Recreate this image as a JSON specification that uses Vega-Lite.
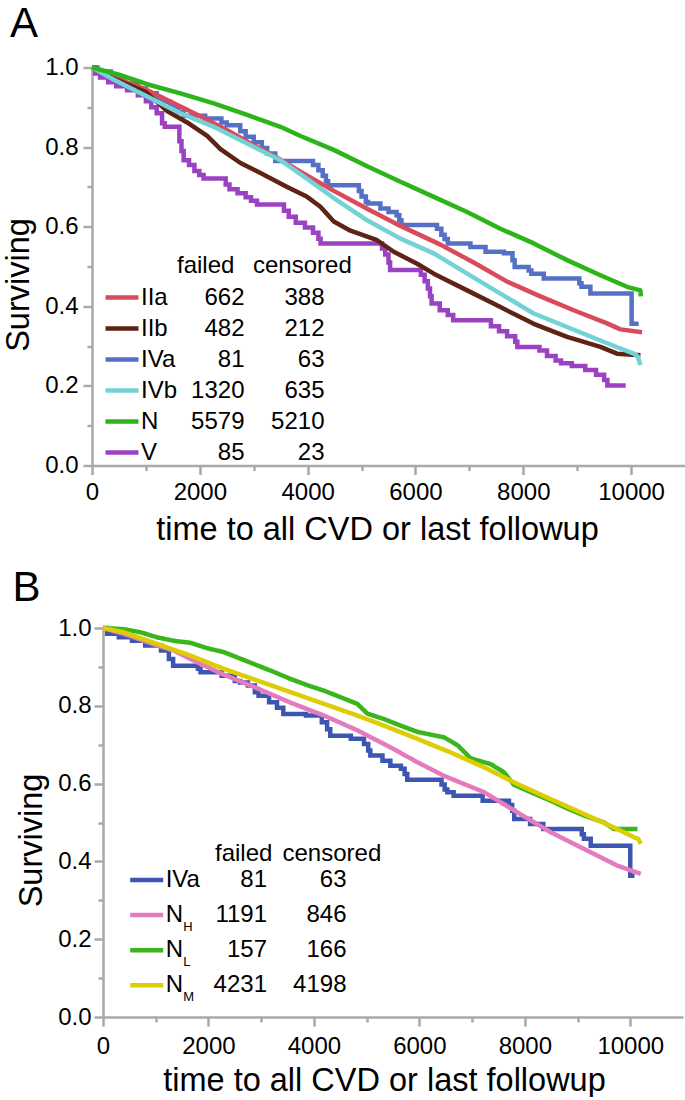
{
  "$schema": "https://vega.github.io/schema/vega-lite/v6.json",
  "background": "white",
  "padding": {"left": 2, "top": 2.5, "right": 0, "bottom": 0},
  "spacing": 20.5,
  "resolve": {
    "scale": {"color": "independent", "opacity": "independent", "strokeWidth": "independent", "strokeDash": "independent"},
    "legend": {"color": "independent", "opacity": "independent", "strokeWidth": "independent", "strokeDash": "independent"}
  },
  "config": {
    "font": "Liberation Sans",
    "view": {"stroke": null},
    "axis": {
      "domainColor": "#a9a9a9", "domainWidth": 2.5,
      "tickColor": "#a9a9a9", "tickWidth": 2.5,
      "labelFont": "Liberation Sans", "labelFontSize": 24, "labelColor": "#000000",
      "titleFont": "Liberation Sans", "titleFontSize": 32.5, "titleFontWeight": "normal", "titleColor": "#000000",
      "grid": false, "labelFlush": false, "labelOverlap": false
    },
    "legend": {
      "orient": "none", "direction": "vertical", "padding": 0,
      "labelFont": "Liberation Sans", "labelFontSize": 24, "labelColor": "#000000", "labelLimit": 400,
      "titleFont": "Liberation Sans", "titleFontSize": 24, "titleFontWeight": "normal", "titleColor": "#000000",
      "symbolType": "stroke", "symbolSize": 1089, "symbolStrokeWidth": 4.5
    }
  },
  "datasets": {
    "countsA": [
      {"g": "IIa", "failed": 662, "censored": 388},
      {"g": "IIb", "failed": 482, "censored": 212},
      {"g": "IVa", "failed": 81, "censored": 63},
      {"g": "IVb", "failed": 1320, "censored": 635},
      {"g": "N", "failed": 5579, "censored": 5210},
      {"g": "V", "failed": 85, "censored": 23}
    ],
    "countsB": [
      {"g": "IVa", "failed": 81, "censored": 63, "sub": "none"},
      {"g": "NH", "failed": 1191, "censored": 846, "sub": "H"},
      {"g": "NL", "failed": 157, "censored": 166, "sub": "L"},
      {"g": "NM", "failed": 4231, "censored": 4198, "sub": "M"}
    ],
    "curvesA": [
      {"g":"IVa","t":0,"s":1.0},{"g":"IVa","t":100,"s":0.99},{"g":"IVa","t":350,"s":0.975},{"g":"IVa","t":600,"s":0.96},{"g":"IVa","t":850,"s":0.947},{"g":"IVa","t":1000,"s":0.935},{"g":"IVa","t":1200,"s":0.924},{"g":"IVa","t":1280,"s":0.914},{"g":"IVa","t":1450,"s":0.9},{"g":"IVa","t":1600,"s":0.888},{"g":"IVa","t":1700,"s":0.879},{"g":"IVa","t":2100,"s":0.872},{"g":"IVa","t":2400,"s":0.862},{"g":"IVa","t":2500,"s":0.855},{"g":"IVa","t":2750,"s":0.84},{"g":"IVa","t":2850,"s":0.826},{"g":"IVa","t":3000,"s":0.812},{"g":"IVa","t":3150,"s":0.798},{"g":"IVa","t":3250,"s":0.784},{"g":"IVa","t":3400,"s":0.765},{"g":"IVa","t":4100,"s":0.755},{"g":"IVa","t":4200,"s":0.742},{"g":"IVa","t":4280,"s":0.728},{"g":"IVa","t":4340,"s":0.714},{"g":"IVa","t":4380,"s":0.704},{"g":"IVa","t":4950,"s":0.69},{"g":"IVa","t":5000,"s":0.676},{"g":"IVa","t":5080,"s":0.662},{"g":"IVa","t":5120,"s":0.658},{"g":"IVa","t":5350,"s":0.646},{"g":"IVa","t":5500,"s":0.637},{"g":"IVa","t":5650,"s":0.629},{"g":"IVa","t":5700,"s":0.616},{"g":"IVa","t":5740,"s":0.604},{"g":"IVa","t":6400,"s":0.595},{"g":"IVa","t":6480,"s":0.58},{"g":"IVa","t":6540,"s":0.569},{"g":"IVa","t":6600,"s":0.558},{"g":"IVa","t":7020,"s":0.549},{"g":"IVa","t":7300,"s":0.537},{"g":"IVa","t":7640,"s":0.533},{"g":"IVa","t":7800,"s":0.516},{"g":"IVa","t":7840,"s":0.499},{"g":"IVa","t":8100,"s":0.49},{"g":"IVa","t":8150,"s":0.482},{"g":"IVa","t":8380,"s":0.47},{"g":"IVa","t":9040,"s":0.458},{"g":"IVa","t":9080,"s":0.449},{"g":"IVa","t":9245,"s":0.432},{"g":"IVa","t":10010,"s":0.356},{"g":"IVa","t":10140,"s":0.356},
      {"g":"V","t":0,"s":1.0},{"g":"V","t":60,"s":0.985},{"g":"V","t":150,"s":0.975},{"g":"V","t":300,"s":0.963},{"g":"V","t":450,"s":0.953},{"g":"V","t":650,"s":0.943},{"g":"V","t":850,"s":0.93},{"g":"V","t":1000,"s":0.915},{"g":"V","t":1100,"s":0.9},{"g":"V","t":1200,"s":0.885},{"g":"V","t":1300,"s":0.86},{"g":"V","t":1350,"s":0.851},{"g":"V","t":1620,"s":0.815},{"g":"V","t":1660,"s":0.79},{"g":"V","t":1700,"s":0.767},{"g":"V","t":1800,"s":0.755},{"g":"V","t":1900,"s":0.74},{"g":"V","t":1990,"s":0.73},{"g":"V","t":2070,"s":0.721},{"g":"V","t":2480,"s":0.706},{"g":"V","t":2550,"s":0.694},{"g":"V","t":2700,"s":0.684},{"g":"V","t":2850,"s":0.674},{"g":"V","t":2950,"s":0.665},{"g":"V","t":3060,"s":0.656},{"g":"V","t":3560,"s":0.64},{"g":"V","t":3650,"s":0.625},{"g":"V","t":3780,"s":0.61},{"g":"V","t":3950,"s":0.598},{"g":"V","t":4100,"s":0.585},{"g":"V","t":4200,"s":0.57},{"g":"V","t":4240,"s":0.558},{"g":"V","t":5380,"s":0.545},{"g":"V","t":5440,"s":0.53},{"g":"V","t":5500,"s":0.51},{"g":"V","t":5530,"s":0.491},{"g":"V","t":6100,"s":0.479},{"g":"V","t":6170,"s":0.463},{"g":"V","t":6230,"s":0.445},{"g":"V","t":6270,"s":0.425},{"g":"V","t":6300,"s":0.407},{"g":"V","t":6450,"s":0.39},{"g":"V","t":6600,"s":0.378},{"g":"V","t":6700,"s":0.365},{"g":"V","t":7400,"s":0.35},{"g":"V","t":7550,"s":0.337},{"g":"V","t":7700,"s":0.325},{"g":"V","t":7850,"s":0.311},{"g":"V","t":7890,"s":0.298},{"g":"V","t":8300,"s":0.289},{"g":"V","t":8440,"s":0.275},{"g":"V","t":8600,"s":0.264},{"g":"V","t":8700,"s":0.257},{"g":"V","t":8900,"s":0.25},{"g":"V","t":9150,"s":0.24},{"g":"V","t":9350,"s":0.228},{"g":"V","t":9500,"s":0.215},{"g":"V","t":9560,"s":0.201},{"g":"V","t":9900,"s":0.201},
      {"g":"IIa","t":0,"s":1.0},{"g":"IIa","t":400,"s":0.975},{"g":"IIa","t":1000,"s":0.945},{"g":"IIa","t":1517,"s":0.91},{"g":"IIa","t":2000,"s":0.878},{"g":"IIa","t":2500,"s":0.843},{"g":"IIa","t":3000,"s":0.805},{"g":"IIa","t":3500,"s":0.768},{"g":"IIa","t":3867,"s":0.738},{"g":"IIa","t":4485,"s":0.69},{"g":"IIa","t":5104,"s":0.645},{"g":"IIa","t":5722,"s":0.602},{"g":"IIa","t":6463,"s":0.555},{"g":"IIa","t":7081,"s":0.51},{"g":"IIa","t":7700,"s":0.462},{"g":"IIa","t":8318,"s":0.425},{"g":"IIa","t":8935,"s":0.39},{"g":"IIa","t":9555,"s":0.357},{"g":"IIa","t":9802,"s":0.342},{"g":"IIa","t":10204,"s":0.335},
      {"g":"IIb","t":0,"s":1.0},{"g":"IIb","t":400,"s":0.972},{"g":"IIb","t":1000,"s":0.938},{"g":"IIb","t":1400,"s":0.89},{"g":"IIb","t":1765,"s":0.862},{"g":"IIb","t":2136,"s":0.828},{"g":"IIb","t":2383,"s":0.795},{"g":"IIb","t":2754,"s":0.76},{"g":"IIb","t":3125,"s":0.735},{"g":"IIb","t":3620,"s":0.7},{"g":"IIb","t":3991,"s":0.675},{"g":"IIb","t":4237,"s":0.65},{"g":"IIb","t":4485,"s":0.613},{"g":"IIb","t":4794,"s":0.59},{"g":"IIb","t":5289,"s":0.566},{"g":"IIb","t":5597,"s":0.537},{"g":"IIb","t":6031,"s":0.507},{"g":"IIb","t":6340,"s":0.482},{"g":"IIb","t":6958,"s":0.44},{"g":"IIb","t":7576,"s":0.398},{"g":"IIb","t":8194,"s":0.356},{"g":"IIb","t":8813,"s":0.323},{"g":"IIb","t":9431,"s":0.298},{"g":"IIb","t":9740,"s":0.281},{"g":"IIb","t":10173,"s":0.277},
      {"g":"IVb","t":0,"s":1.0},{"g":"IVb","t":400,"s":0.97},{"g":"IVb","t":1023,"s":0.927},{"g":"IVb","t":1641,"s":0.885},{"g":"IVb","t":2259,"s":0.851},{"g":"IVb","t":2878,"s":0.809},{"g":"IVb","t":3496,"s":0.767},{"g":"IVb","t":3867,"s":0.732},{"g":"IVb","t":4485,"s":0.672},{"g":"IVb","t":5104,"s":0.616},{"g":"IVb","t":5722,"s":0.57},{"g":"IVb","t":6340,"s":0.533},{"g":"IVb","t":6958,"s":0.482},{"g":"IVb","t":7576,"s":0.432},{"g":"IVb","t":8194,"s":0.382},{"g":"IVb","t":8813,"s":0.348},{"g":"IVb","t":9431,"s":0.314},{"g":"IVb","t":9802,"s":0.294},{"g":"IVb","t":10049,"s":0.281},{"g":"IVb","t":10120,"s":0.275},{"g":"IVb","t":10173,"s":0.252},
      {"g":"N","t":0,"s":1.0},{"g":"N","t":500,"s":0.982},{"g":"N","t":1023,"s":0.958},{"g":"N","t":1641,"s":0.935},{"g":"N","t":2259,"s":0.91},{"g":"N","t":2878,"s":0.881},{"g":"N","t":3496,"s":0.851},{"g":"N","t":3867,"s":0.828},{"g":"N","t":4485,"s":0.793},{"g":"N","t":5104,"s":0.752},{"g":"N","t":5722,"s":0.713},{"g":"N","t":6340,"s":0.675},{"g":"N","t":6958,"s":0.637},{"g":"N","t":7576,"s":0.595},{"g":"N","t":8194,"s":0.558},{"g":"N","t":8813,"s":0.516},{"g":"N","t":9431,"s":0.478},{"g":"N","t":9926,"s":0.449},{"g":"N","t":10173,"s":0.44},{"g":"N","t":10180,"s":0.425}
    ],
    "curvesB": [
      {"g":"IVa","t":0,"s":1.0},{"g":"IVa","t":80,"s":0.985},{"g":"IVa","t":300,"s":0.976},{"g":"IVa","t":550,"s":0.967},{"g":"IVa","t":800,"s":0.955},{"g":"IVa","t":1100,"s":0.942},{"g":"IVa","t":1250,"s":0.92},{"g":"IVa","t":1330,"s":0.903},{"g":"IVa","t":1800,"s":0.895},{"g":"IVa","t":1850,"s":0.886},{"g":"IVa","t":2250,"s":0.877},{"g":"IVa","t":2500,"s":0.864},{"g":"IVa","t":2600,"s":0.86},{"g":"IVa","t":2750,"s":0.852},{"g":"IVa","t":2880,"s":0.835},{"g":"IVa","t":2950,"s":0.826},{"g":"IVa","t":3150,"s":0.809},{"g":"IVa","t":3300,"s":0.795},{"g":"IVa","t":3420,"s":0.779},{"g":"IVa","t":3850,"s":0.775},{"g":"IVa","t":4150,"s":0.758},{"g":"IVa","t":4250,"s":0.74},{"g":"IVa","t":4310,"s":0.723},{"g":"IVa","t":4700,"s":0.715},{"g":"IVa","t":4950,"s":0.702},{"g":"IVa","t":5030,"s":0.685},{"g":"IVa","t":5070,"s":0.672},{"g":"IVa","t":5300,"s":0.659},{"g":"IVa","t":5450,"s":0.646},{"g":"IVa","t":5650,"s":0.638},{"g":"IVa","t":5720,"s":0.625},{"g":"IVa","t":5770,"s":0.61},{"g":"IVa","t":6420,"s":0.598},{"g":"IVa","t":6480,"s":0.585},{"g":"IVa","t":6530,"s":0.578},{"g":"IVa","t":6650,"s":0.569},{"g":"IVa","t":7200,"s":0.556},{"g":"IVa","t":7700,"s":0.545},{"g":"IVa","t":7760,"s":0.53},{"g":"IVa","t":7800,"s":0.509},{"g":"IVa","t":8100,"s":0.496},{"g":"IVa","t":8350,"s":0.483},{"g":"IVa","t":9080,"s":0.47},{"g":"IVa","t":9120,"s":0.458},{"g":"IVa","t":9250,"s":0.44},{"g":"IVa","t":10000,"s":0.363},{"g":"IVa","t":10080,"s":0.363},
      {"g":"NL","t":0,"s":1.0},{"g":"NL","t":395,"s":0.997},{"g":"NL","t":712,"s":0.989},{"g":"NL","t":1028,"s":0.976},{"g":"NL","t":1344,"s":0.967},{"g":"NL","t":1660,"s":0.962},{"g":"NL","t":1977,"s":0.948},{"g":"NL","t":2292,"s":0.938},{"g":"NL","t":2609,"s":0.921},{"g":"NL","t":2926,"s":0.904},{"g":"NL","t":3241,"s":0.887},{"g":"NL","t":3558,"s":0.869},{"g":"NL","t":3875,"s":0.853},{"g":"NL","t":4190,"s":0.839},{"g":"NL","t":4507,"s":0.822},{"g":"NL","t":4823,"s":0.805},{"g":"NL","t":5013,"s":0.78},{"g":"NL","t":5328,"s":0.766},{"g":"NL","t":5645,"s":0.749},{"g":"NL","t":5962,"s":0.733},{"g":"NL","t":6467,"s":0.719},{"g":"NL","t":6721,"s":0.699},{"g":"NL","t":6973,"s":0.665},{"g":"NL","t":7353,"s":0.65},{"g":"NL","t":7605,"s":0.629},{"g":"NL","t":7795,"s":0.597},{"g":"NL","t":8112,"s":0.578},{"g":"NL","t":8491,"s":0.556},{"g":"NL","t":8808,"s":0.536},{"g":"NL","t":9123,"s":0.518},{"g":"NL","t":9503,"s":0.5},{"g":"NL","t":9693,"s":0.483},{"g":"NL","t":10137,"s":0.483},
      {"g":"NH","t":0,"s":1.0},{"g":"NH","t":395,"s":0.985},{"g":"NH","t":1028,"s":0.955},{"g":"NH","t":1344,"s":0.942},{"g":"NH","t":1660,"s":0.92},{"g":"NH","t":2292,"s":0.88},{"g":"NH","t":2926,"s":0.845},{"g":"NH","t":3558,"s":0.808},{"g":"NH","t":4190,"s":0.775},{"g":"NH","t":4823,"s":0.737},{"g":"NH","t":5455,"s":0.693},{"g":"NH","t":5962,"s":0.655},{"g":"NH","t":6467,"s":0.62},{"g":"NH","t":7226,"s":0.578},{"g":"NH","t":7859,"s":0.526},{"g":"NH","t":8491,"s":0.475},{"g":"NH","t":9123,"s":0.432},{"g":"NH","t":9757,"s":0.389},{"g":"NH","t":10050,"s":0.375},{"g":"NH","t":10199,"s":0.368},
      {"g":"NM","t":0,"s":1.0},{"g":"NM","t":395,"s":0.989},{"g":"NM","t":1028,"s":0.959},{"g":"NM","t":1660,"s":0.929},{"g":"NM","t":2292,"s":0.895},{"g":"NM","t":2926,"s":0.865},{"g":"NM","t":3558,"s":0.835},{"g":"NM","t":4190,"s":0.805},{"g":"NM","t":4823,"s":0.775},{"g":"NM","t":5328,"s":0.749},{"g":"NM","t":5962,"s":0.715},{"g":"NM","t":6594,"s":0.68},{"g":"NM","t":7226,"s":0.642},{"g":"NM","t":7859,"s":0.599},{"g":"NM","t":8491,"s":0.56},{"g":"NM","t":9123,"s":0.522},{"g":"NM","t":9757,"s":0.483},{"g":"NM","t":10072,"s":0.462},{"g":"NM","t":10150,"s":0.458},{"g":"NM","t":10199,"s":0.445}
    ]
  },
  "vconcat": [
    {
      "width": 593,
      "height": 398,
      "title": {"text": "A", "anchor": "start", "frame": "group", "fontSize": 42, "fontWeight": "normal", "color": "#000000", "baseline": "top", "dx": -82, "offset": 10},
      "data": {"name": "curvesA"},
      "encoding": {
        "x": {"field": "t", "type": "quantitative",
          "scale": {"domain": [0, 11000], "nice": false, "zero": false},
          "axis": {"title": "time to all CVD or last followup", "values": [0,1000,2000,3000,4000,5000,6000,7000,8000,9000,10000], "format": "d",
            "labelExpr": "datum.value % 2000 === 0 ? datum.label : ''",
            "tickSize": {"condition": {"test": "datum.value % 2000 === 0", "value": 9}, "value": 5},
            "labelPadding": 6, "titlePadding": 9, "titleX": 285}},
        "y": {"field": "s", "type": "quantitative",
          "scale": {"domain": [0, 1], "nice": false},
          "axis": {"title": "Surviving", "values": [0,0.1,0.2,0.3,0.4,0.5,0.6,0.7,0.8,0.9,1.0], "format": ".1f",
            "labelExpr": "round(datum.value*10) % 2 === 0 ? datum.label : ''",
            "tickSize": {"condition": {"test": "round(datum.value*10) % 2 === 0", "value": 9}, "value": 5},
            "labelPadding": 5, "titlePadding": 9.5, "titleY": 217}},
        "color": {"field": "g", "type": "nominal",
          "scale": {"domain": ["IIa","IIb","IVa","IVb","N","V"], "range": ["#d94b5b","#5e2314","#5571c5","#72d2d6","#2eb41b","#9a42c2"]},
          "legend": {"title": null, "legendX": 11, "legendY": 211, "labelOffset": 0, "rowPadding": -1}},
        "opacity": {"field": "failed", "type": "nominal",
          "scale": {"domain": [662, 482, 81, 1320, 5579, 85], "range": [1, 1]},
          "legend": {"title": "failed", "legendX": 85, "legendY": 186, "labelOffset": 29.5, "labelAlign": "right", "rowPadding": -1, "titlePadding": 1,
            "symbolOpacity": 0, "symbolStrokeColor": "transparent", "symbolFillColor": "transparent"}},
        "strokeWidth": {"field": "censored", "type": "ordinal",
          "scale": {"domain": [388, 212, 63, 635, 5210, 23], "range": [4.5, 4.5]},
          "legend": {"title": "censored", "legendX": 161, "legendY": 186, "labelOffset": 33.5, "labelAlign": "right", "rowPadding": -1, "titlePadding": 1,
            "symbolOpacity": 0, "symbolStrokeColor": "transparent", "symbolFillColor": "transparent"}}
      },
      "layer": [
        {"transform": [{"filter": {"field": "g", "oneOf": ["IVa", "V"]}},
                       {"lookup": "g", "from": {"data": {"name": "countsA"}, "key": "g", "fields": ["failed", "censored"]}}],
         "mark": {"type": "line", "interpolate": "step-after", "strokeJoin": "miter", "strokeCap": "butt"}},
        {"transform": [{"filter": {"field": "g", "oneOf": ["IIa", "IIb", "IVb", "N"]}},
                       {"lookup": "g", "from": {"data": {"name": "countsA"}, "key": "g", "fields": ["failed", "censored"]}}],
         "mark": {"type": "line", "interpolate": "linear", "strokeJoin": "round"}},
        {"data": {"values": [{}]},
         "mark": {"type": "rule", "color": "#a9a9a9", "strokeWidth": 2.5},
         "encoding": {"x": {"datum": 0, "type": "quantitative"}, "x2": {"datum": 11000}, "y": {"datum": 1, "type": "quantitative"},
           "color": {"value": "#a9a9a9"}, "opacity": {"value": 1}, "strokeWidth": {"value": 2.5}}},
        {"data": {"values": [{}]},
         "mark": {"type": "rule", "color": "#a9a9a9", "strokeWidth": 2.5},
         "encoding": {"x": {"datum": 11000, "type": "quantitative"}, "y": {"datum": 0, "type": "quantitative"}, "y2": {"datum": 1},
           "color": {"value": "#a9a9a9"}, "opacity": {"value": 1}, "strokeWidth": {"value": 2.5}}}
      ]
    },
    {
      "width": 591,
      "height": 389,
      "title": {"text": "B", "anchor": "start", "frame": "group", "fontSize": 42, "fontWeight": "normal", "color": "#000000", "baseline": "top", "dx": -79.5, "offset": 6},
      "data": {"name": "curvesB"},
      "encoding": {
        "x": {"field": "t", "type": "quantitative",
          "scale": {"domain": [0, 11000], "nice": false, "zero": false, "rangeMin": 11},
          "axis": {"title": "time to all CVD or last followup", "values": [0,1000,2000,3000,4000,5000,6000,7000,8000,9000,10000], "format": "d",
            "labelExpr": "datum.value % 2000 === 0 ? datum.label : ''",
            "tickSize": {"condition": {"test": "datum.value % 2000 === 0", "value": 9}, "value": 5},
            "labelPadding": 8, "titlePadding": 6, "titleX": 292}},
        "y": {"field": "s", "type": "quantitative",
          "scale": {"domain": [0, 1], "nice": false},
          "axis": {"title": "Surviving", "values": [0,0.1,0.2,0.3,0.4,0.5,0.6,0.7,0.8,0.9,1.0], "format": ".1f", "offset": -11,
            "labelExpr": "round(datum.value*10) % 2 === 0 ? datum.label : ''",
            "tickSize": {"condition": {"test": "round(datum.value*10) % 2 === 0", "value": 9}, "value": 5},
            "labelPadding": 3, "titlePadding": 9, "titleY": 212}},
        "color": {"field": "g", "type": "nominal",
          "scale": {"domain": ["IVa","NH","NL","NM"], "range": ["#3c56b1","#e57bbf","#38b61b","#dccd05"]},
          "legend": {"title": null, "legendX": 35.7, "legendY": 233, "labelOffset": 0, "rowPadding": 4.1,
            "labelExpr": "datum.label == 'IVa' ? 'IVa' : 'N'"}},
        "opacity": {"field": "failed", "type": "nominal",
          "scale": {"domain": [81, 1191, 157, 4231], "range": [1, 1]},
          "legend": {"title": "failed", "legendX": 123, "legendY": 213.7, "labelOffset": 14, "labelAlign": "right", "rowPadding": 4.1, "titlePadding": -4.6,
            "symbolOpacity": 0, "symbolStrokeColor": "transparent", "symbolFillColor": "transparent"}},
        "strokeWidth": {"field": "censored", "type": "ordinal",
          "scale": {"domain": [63, 846, 166, 4198], "range": [4.5, 4.5]},
          "legend": {"title": "censored", "legendX": 190.5, "legendY": 213.7, "labelOffset": 26, "labelAlign": "right", "rowPadding": 4.1, "titlePadding": -4.6,
            "symbolOpacity": 0, "symbolStrokeColor": "transparent", "symbolFillColor": "transparent"}},
        "strokeDash": {"field": "sub", "type": "nominal",
          "scale": {"domain": ["none", "H", "L", "M"], "range": [[1, 0], [1, 0], [1, 0], [1, 0]]},
          "legend": {"title": null, "legendX": 35.7, "legendY": 244.8, "labelOffset": 17.5, "labelFontSize": 13, "rowPadding": 9.1,
            "labelExpr": "datum.label == 'none' ? ' ' : datum.label",
            "symbolOpacity": 0, "symbolStrokeColor": "transparent", "symbolFillColor": "transparent"}}
      },
      "layer": [
        {"transform": [{"filter": {"field": "g", "oneOf": ["IVa"]}},
                       {"lookup": "g", "from": {"data": {"name": "countsB"}, "key": "g", "fields": ["failed", "censored", "sub"]}}],
         "mark": {"type": "line", "interpolate": "step-after", "strokeJoin": "miter", "strokeCap": "butt"}},
        {"transform": [{"filter": {"field": "g", "oneOf": ["NL", "NH", "NM"]}},
                       {"lookup": "g", "from": {"data": {"name": "countsB"}, "key": "g", "fields": ["failed", "censored", "sub"]}}],
         "mark": {"type": "line", "interpolate": "linear", "strokeJoin": "round"}},
        {"data": {"values": [{}]},
         "mark": {"type": "rule", "color": "#a9a9a9", "strokeWidth": 2.5},
         "encoding": {"x": {"datum": 0, "type": "quantitative"}, "x2": {"datum": 11000}, "y": {"datum": 1, "type": "quantitative"},
           "color": {"value": "#a9a9a9"}, "opacity": {"value": 1}, "strokeWidth": {"value": 2.5}, "strokeDash": {"value": [1, 0]}}},
        {"data": {"values": [{}]},
         "mark": {"type": "rule", "color": "#a9a9a9", "strokeWidth": 2.5},
         "encoding": {"x": {"datum": 11000, "type": "quantitative"}, "y": {"datum": 0, "type": "quantitative"}, "y2": {"datum": 1},
           "color": {"value": "#a9a9a9"}, "opacity": {"value": 1}, "strokeWidth": {"value": 2.5}, "strokeDash": {"value": [1, 0]}}}
      ]
    }
  ]
}
